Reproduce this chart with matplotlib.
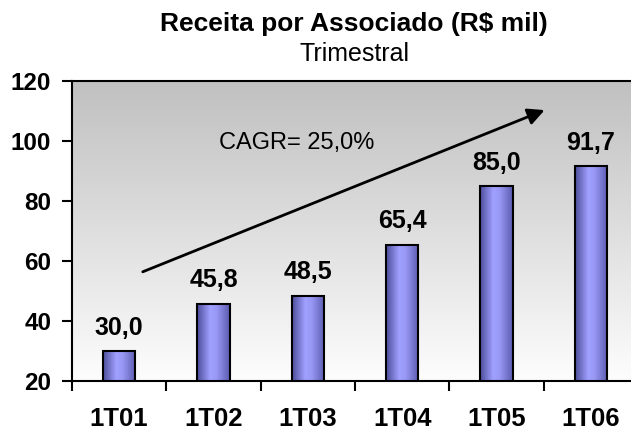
import numpy as np
import matplotlib
matplotlib.use('Agg')
import matplotlib.pyplot as plt
from matplotlib.colors import LinearSegmentedColormap

#%% data
categorias = ['1T01', '1T02', '1T03', '1T04', '1T05', '1T06']
receita = [30.0, 45.8, 48.5, 65.4, 85.0, 91.7]
rotulos = ['30,0', '45,8', '48,5', '65,4', '85,0', '91,7']
yticks = [20, 40, 60, 80, 100, 120]
cagr_txt = 'CAGR= 25,0%'

#%% style
plt.rcParams.update({
    'font.family': ['Liberation Sans', 'DejaVu Sans'],
    'font.size': 16,
    'axes.linewidth': 1.5,
})

fig = plt.figure(figsize=(6.31, 4.30), dpi=100)
W, H = 631., 430.
ax = fig.add_axes([72/W, (H-381)/H, (638-72)/W, (381-81)/H])

x = np.arange(len(categorias))
ymin, ymax = 20, 120

# background gradient (grey top -> white bottom)
bg = LinearSegmentedColormap.from_list('bg', ['#fdfdfd', '#c0c0c0'])
ax.imshow(np.linspace(0, 1, 256).reshape(-1, 1), cmap=bg, origin='lower',
          extent=[-0.5, 5.5, ymin, ymax], aspect='auto', zorder=0)

# bars with horizontal gradient
barcm = LinearSegmentedColormap.from_list('bar', [(0, '#4e4e9c'), (0.4, '#a0a0ff'),
                                                  (0.6, '#9898f4'), (1, '#5c5cb0')])
w = 0.34
grad = np.linspace(0, 1, 64).reshape(1, -1)
for xi, v, lab in zip(x, receita, rotulos):
    ax.imshow(grad, cmap=barcm, extent=[xi - w/2, xi + w/2, ymin, v],
              aspect='auto', zorder=2)
    ax.text(xi, v + 3.8, lab, ha='center', va='bottom', fontsize=18,
            fontweight='bold', zorder=4)
ax.bar(x, receita, width=w, facecolor='none', edgecolor='black',
       linewidth=1.5, zorder=3)

ax.set_xlim(-0.5, 5.5)
ax.set_ylim(ymin, ymax)

# ticks
ax.set_yticks(yticks)
ax.set_yticklabels([str(t) for t in yticks], fontweight='bold', fontsize=17.5)
ax.tick_params(axis='y', direction='out', length=7, width=1.5, pad=8)
ax.set_xticks(np.arange(-0.5, 6.0, 1.0))
ax.set_xticklabels([])
ax.tick_params(axis='x', which='major', direction='out', length=7, width=1.5)
ax.set_xticks(x, minor=True)
ax.set_xticklabels(categorias, minor=True, fontweight='bold', fontsize=18.5)
ax.tick_params(axis='x', which='minor', length=0, pad=19)
ax.spines['right'].set_visible(False)

# trend arrow + CAGR
ax.annotate('', xy=(4.51, 110.3), xytext=(0.25, 56.4),
            arrowprops=dict(arrowstyle='-|>', color='black', lw=2,
                            mutation_scale=25, shrinkA=0, shrinkB=0), zorder=5)
ax.text(1.06, 99.2, cagr_txt, ha='left', va='center', fontsize=17)

# titles
fig.text(354/W, 1 - 24/H, 'Receita por Associado (R$ mil)', ha='center',
         va='center', fontsize=19, fontweight='bold')
fig.text(354/W, 1 - 54/H, 'Trimestral', ha='center', va='center', fontsize=18)

fig.savefig('out.png', dpi=100)
